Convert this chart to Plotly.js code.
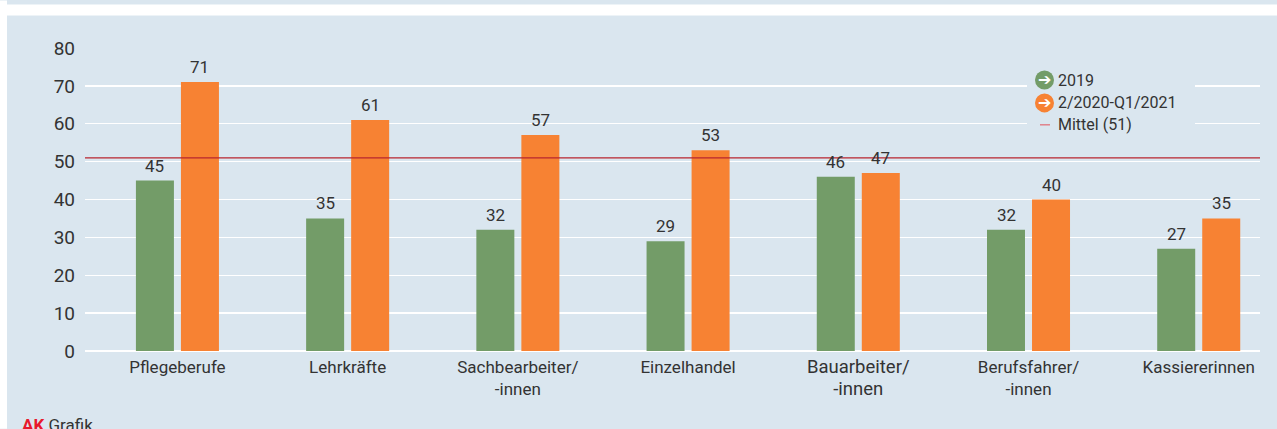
<!DOCTYPE html>
<html><head><meta charset="utf-8">
<script src="https://cdn.plot.ly/plotly-3.0.1.min.js"></script>
<style>html,body{margin:0;padding:0;background:#fff;overflow:hidden}</style>
</head><body><div id="chart" style="width:1277px;height:429px"></div>
<script>
const categories = ["Pflegeberufe","Lehrkräfte","Sachbearbeiter/<br>-innen","Einzelhandel","Bauarbeiter/<br>-innen","Berufsfahrer/<br>-innen","Kassiererinnen"];
const tickLabels = ["Pflegeberufe","Lehrkräfte","Sachbearbeiter/<br>-innen","Einzelhandel","<span style='font-size:18.5px'>Bauarbeiter/</span><br><span style='font-size:18.5px'>-innen</span>","Berufsfahrer/<br>-innen","Kassiererinnen"];
const values2019 = [45,35,32,29,46,32,27];
const values2020 = [71,61,57,53,47,40,35];
const meanValue = 51;
const yTicks = [0,10,20,30,40,50,60,70,80];
const seriesNames = ["2019","2/2020-Q1/2021"];
const meanName = "Mittel (51)";
const BG="#dae6ef", GREEN="#739c68", ORANGE="#f78233", TXT="#333333", FONT="Roboto, sans-serif";
const W=1277,H=429,L=85,R=1260,T=47.5,B=351;
const px=x=>(x-L)/(R-L), py=y=>(B-y)/(B-T);
function bar(name,vals,color){return {type:"bar",name,x:categories,y:vals,marker:{color,line:{width:0}},hoverinfo:"skip"};}
const shapes=[
 {type:"rect",xref:"paper",yref:"paper",x0:px(0),x1:px(7),y0:py(H),y1:py(0),fillcolor:"#fff",line:{width:0},layer:"below"},
 {type:"rect",xref:"paper",yref:"paper",x0:px(0),x1:px(W),y0:py(15),y1:py(4),fillcolor:"#fff",line:{width:0},layer:"below"},
 {type:"line",xref:"paper",yref:"y",x0:0,x1:1,y0:meanValue,y1:meanValue,line:{color:"#b8242f",width:1.2},layer:"above"},
 {type:"rect",xref:"paper",yref:"paper",x0:px(1027),x1:px(1195),y0:py(135),y1:py(70),fillcolor:BG,line:{width:0},layer:"above"},
 {type:"circle",xref:"paper",yref:"paper",x0:px(1035),x1:px(1054),y0:py(89),y1:py(70),fillcolor:GREEN,line:{width:0}},
 {type:"circle",xref:"paper",yref:"paper",x0:px(1035),x1:px(1054),y0:py(112),y1:py(93),fillcolor:ORANGE,line:{width:0}},
 {type:"line",xref:"paper",yref:"paper",x0:px(1040),x1:px(1050),y0:py(124.5),y1:py(124.5),line:{color:"#e2505a",width:1}}
];
const ann=(x,y,text,extra)=>Object.assign({xref:"paper",yref:"paper",x:px(x),y:py(y),text,showarrow:false,xanchor:"left",yanchor:"middle",font:{family:FONT,size:16,color:TXT}},extra||{});
const valLabels=(vals,shift)=>vals.map((v,i)=>({xref:"x",yref:"y",x:categories[i],y:v,text:String(v),showarrow:false,xanchor:"center",yanchor:"middle",xshift:shift,yshift:15,font:{family:FONT,size:17,color:TXT}}));
const annotations=[
 ...valLabels(values2019,-22.5),...valLabels(values2020,22.5),
 ann(1056,80,seriesNames[0]), ann(1056,102.5,seriesNames[1]), ann(1056,124.5,meanName),
 ann(1044.5,79.5,"<b>➔</b>",{xanchor:"center",font:{family:"DejaVu Sans",size:16,color:"#fff"}}),
 ann(1044.5,102.5,"<b>➔</b>",{xanchor:"center",font:{family:"DejaVu Sans",size:16,color:"#fff"}}),
 ann(20,425,"<b><span style='color:#e8192c'>AK</span></b> Grafik",{font:{family:FONT,size:17,color:TXT}})
];
const layout={width:W,height:H,paper_bgcolor:BG,plot_bgcolor:"rgba(0,0,0,0)",showlegend:false,
 margin:{l:L,r:W-R,t:T,b:H-B,pad:0},barmode:"group",bargap:0.471,bargroupgap:0.156,
 xaxis:{type:"category",range:[-0.543,6.36],tickmode:"array",tickvals:categories,ticktext:tickLabels,showgrid:false,zeroline:false,showline:false,ticks:"",ticklen:0,
   tickfont:{family:FONT,size:17,color:TXT},automargin:false,ticklabelstandoff:4},
 yaxis:{range:[0,80],tickvals:yTicks,showgrid:true,gridcolor:"#fff",gridwidth:1.3,zeroline:true,zerolinecolor:"#fff",zerolinewidth:1.6,
   ticks:"",tickfont:{family:FONT,size:19,color:TXT},automargin:false,ticklabelstandoff:9},
 shapes,annotations};
Plotly.newPlot("chart",[bar(seriesNames[0],values2019,GREEN),bar(seriesNames[1],values2020,ORANGE)],layout,{displayModeBar:false,staticPlot:true});
</script></body></html>
